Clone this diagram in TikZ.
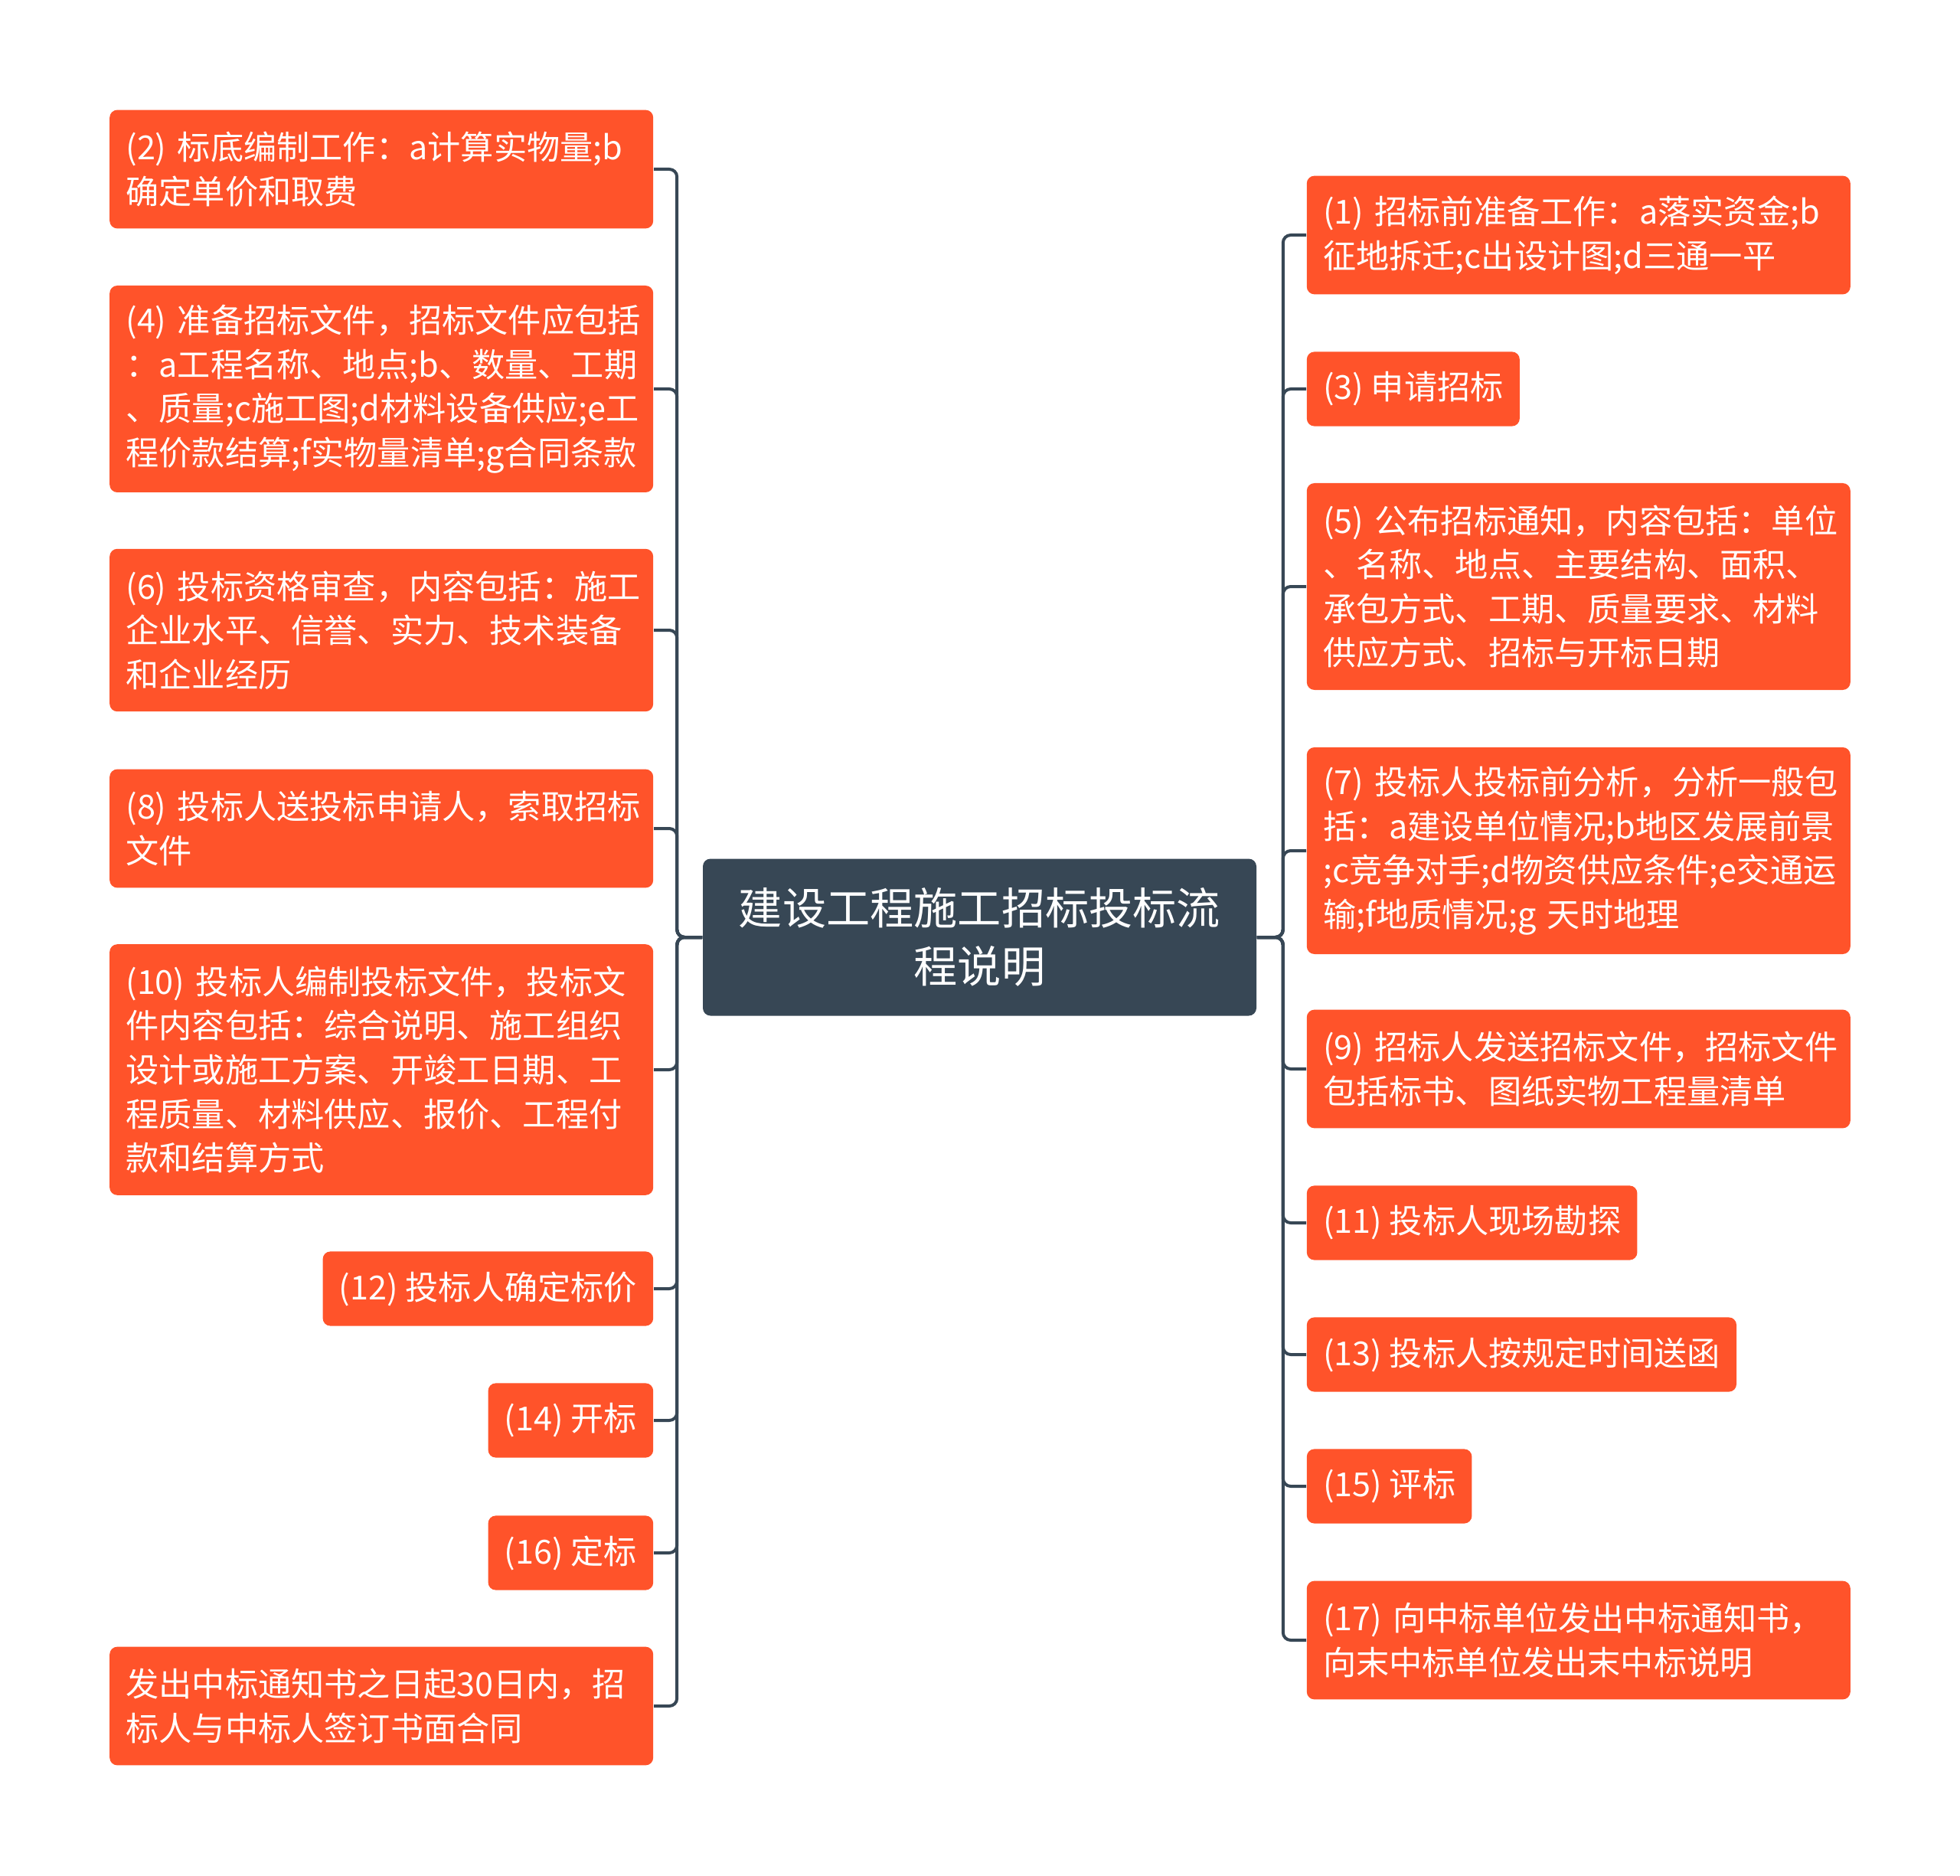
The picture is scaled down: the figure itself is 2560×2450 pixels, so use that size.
\documentclass[tikz,border=0pt]{standalone}
\usepackage{fontspec}
\setmainfont{Noto Sans CJK SC}
\definecolor{topicred}{RGB}{255,83,42}
\definecolor{rootgray}{RGB}{55,71,85}
\tikzset{
  topic/.style={fill=topicred,text=white,rounded corners=2.5pt,align=left,
    inner xsep=5.3pt,inner ysep=0pt,font=\fontsize{10.8}{14.4}\selectfont},
  wide/.style={minimum width=177.5pt,text width=166.9pt},
  nl/.style={minimum height={9.9pt+14.4pt*#1}},
  link/.style={draw=rootgray,line width=1pt,rounded corners=2.5pt},
}
\begin{document}
\begin{tikzpicture}[x=0.25pt,y=-0.25pt]
\useasboundingbox (0,0) rectangle (2560,2450);
\node [fill=rootgray,text=white,rounded corners=2.5pt,align=center,minimum width=180.75pt,minimum height=51.25pt,
  inner sep=0pt,font=\fontsize{14.3}{18.8}\selectfont,name=root] at (1279.5,1224) {建设工程施工招标投标流\\程说明};
% left side
\node [topic,wide,nl=2,anchor=east,name=n2] at (854,221) {(2)~标底编制工作：a计算实物量;b\\确定单价和取费};
\node [topic,wide,nl=4,anchor=east,name=n4] at (854,508) {(4)~准备招标文件，招标文件应包括\\：a工程名称、地点;b、数量、工期\\、质量;c施工图;d材料设备供应;e工\\程价款结算;f实物量清单;g合同条款};
\node [topic,wide,nl=3,anchor=east,name=n6] at (854,823) {(6)~投标资格审查，内容包括：施工\\企业水平、信誉、实力、技术装备\\和企业经历};
\node [topic,wide,nl=2,anchor=east,name=n8] at (854,1082) {(8)~投标人送投标申请人，索取招标\\文件};
\node [topic,wide,nl=5,anchor=east,name=n10] at (854,1397) {(10)~投标人编制投标文件，投标文\\件内容包括：综合说明、施工组织\\设计或施工方案、开竣工日期、工\\程质量、材料供应、报价、工程付\\款和结算方式};
\node [topic,nl=1,anchor=east,name=n12] at (854,1683) {(12) 投标人确定标价};
\node [topic,nl=1,anchor=east,name=n14] at (854,1855) {(14) 开标};
\node [topic,nl=1,anchor=east,name=n16] at (854,2028) {(16) 定标};
\node [topic,wide,nl=2,anchor=east,name=n18] at (854,2228) {发出中标通知书之日起30日内，招\\标人与中标人签订书面合同};
% right side
\node [topic,wide,nl=2,anchor=west,name=n1] at (1706,307) {(1)~招标前准备工作：a落实资金;b\\征地拆迁;c出设计图;d三通一平};
\node [topic,nl=1,anchor=west,name=n3] at (1706,508) {(3) 申请招标};
\node [topic,wide,nl=4,anchor=west,name=n5] at (1706,766) {(5)~公布招标通知，内容包括：单位\\、名称、地点、主要结构、面积、\\承包方式、工期、质量要求、材料\\供应方式、招标与开标日期};
\node [topic,wide,nl=4,anchor=west,name=n7] at (1706,1111) {(7)~投标人投标前分析，分析一般包\\括：a建设单位情况;b地区发展前景\\;c竞争对手;d物资供应条件;e交通运\\输;f地质情况;g~天时地理};
\node [topic,wide,nl=2,anchor=west,name=n9] at (1706,1396) {(9)~招标人发送招标文件，招标文件\\包括标书、图纸实物工程量清单};
\node [topic,nl=1,anchor=west,name=n11] at (1706,1597) {(11) 投标人现场勘探};
\node [topic,nl=1,anchor=west,name=n13] at (1706,1769) {(13) 投标人按规定时间送函};
\node [topic,nl=1,anchor=west,name=n15] at (1706,1941) {(15) 评标};
\node [topic,wide,nl=2,anchor=west,name=n17] at (1706,2142) {(17)~向中标单位发出中标通知书，\\向末中标单位发出末中标说明};
% connectors
\foreach \n in {n2,n4,n6,n8,n10,n12,n14,n16,n18}
  \draw [link] (root.west) -- ++(-33,0) |- (\n.east);
\foreach \n in {n1,n3,n5,n7,n9,n11,n13,n15,n17}
  \draw [link] (root.east) -- ++(34,0) |- (\n.west);
\end{tikzpicture}
\end{document}
